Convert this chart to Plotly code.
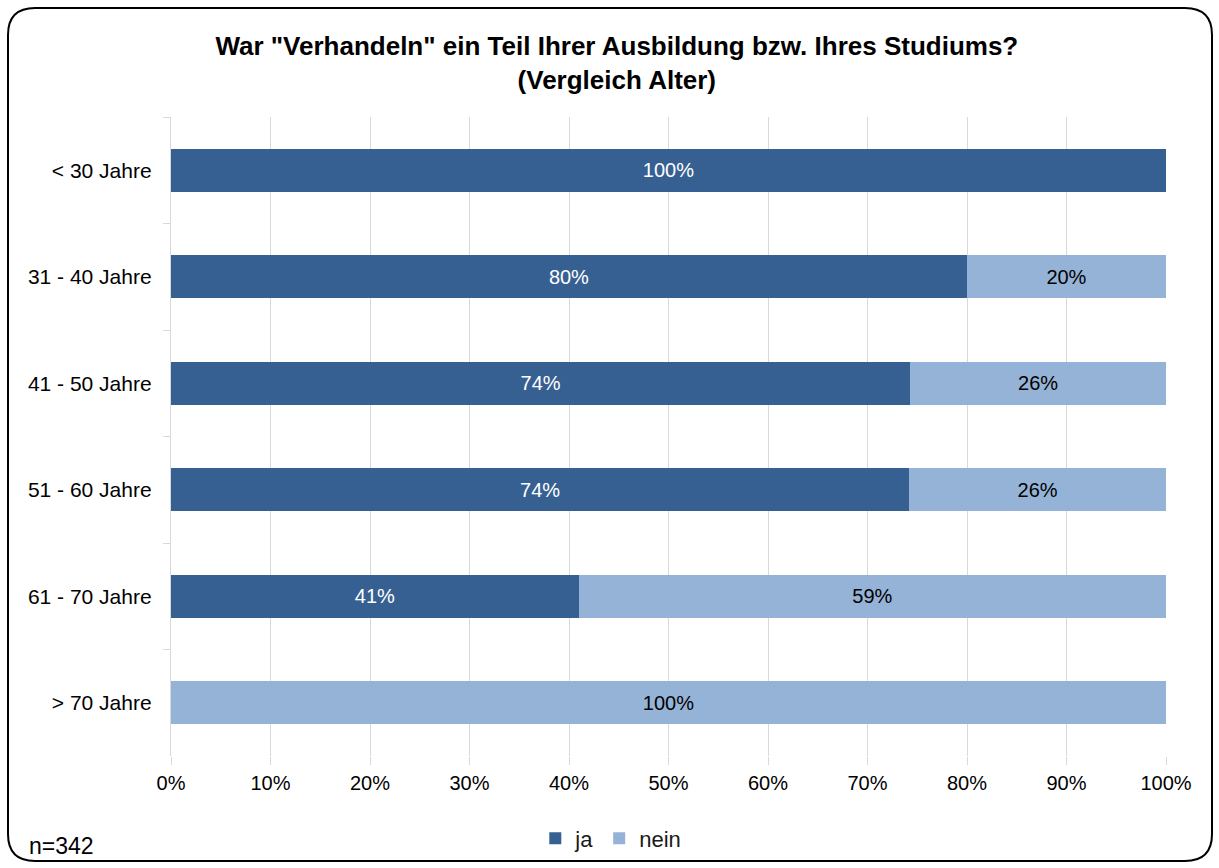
import plotly.graph_objects as go

categories = ["< 30 Jahre", "31 - 40 Jahre", "41 - 50 Jahre", "51 - 60 Jahre", "61 - 70 Jahre", "> 70 Jahre"]
ja = [100, 80, 74.3, 74.2, 41, 0]
nein = [0, 20, 25.7, 25.8, 59, 100]
tick_vals = [0, 10, 20, 30, 40, 50, 60, 70, 80, 90, 100]
tick_text = ["0%", "10%", "20%", "30%", "40%", "50%", "60%", "70%", "80%", "90%", "100%"]

W, H = 1219, 868
L, R, T, B = 171, 53, 117, 112
FONT = "Liberation Sans, Arial, sans-serif"


def lbl(vals):
    return [f"{round(v)}%" if v > 0 else "" for v in vals]


fig = go.Figure()
fig.add_trace(go.Bar(y=categories, x=ja, name="ja", orientation="h",
                     marker=dict(color="#376092", line=dict(width=0)),
                     text=lbl(ja), textposition="inside", insidetextanchor="middle",
                     textfont=dict(color="white", size=20, family=FONT)))
fig.add_trace(go.Bar(y=categories, x=nein, name="nein", orientation="h",
                     marker=dict(color="#95B3D7", line=dict(width=0)),
                     text=lbl(nein), textposition="inside", insidetextanchor="middle",
                     textfont=dict(color="#000000", size=20, family=FONT)))

pw, ph = W - L - R, H - T - B


def px(x):
    return (x - L) / pw


def py(y):
    return 1 - (y - T) / ph


x0, x1, y0, y1, r = 8, 1212, 8, 861, 27
path = (f"M {px(x0 + r)} {py(y0)} L {px(x1 - r)} {py(y0)} Q {px(x1)} {py(y0)} {px(x1)} {py(y0 + r)} "
        f"L {px(x1)} {py(y1 - r)} Q {px(x1)} {py(y1)} {px(x1 - r)} {py(y1)} "
        f"L {px(x0 + r)} {py(y1)} Q {px(x0)} {py(y1)} {px(x0)} {py(y1 - r)} "
        f"L {px(x0)} {py(y0 + r)} Q {px(x0)} {py(y0)} {px(x0 + r)} {py(y0)} Z")

fig.update_layout(
    width=W, height=H,
    margin=dict(l=L, r=R, t=T, b=B, autoexpand=False),
    barmode="stack", bargap=0.6,
    paper_bgcolor="white", plot_bgcolor="white",
    font=dict(family=FONT, size=20, color="#000000"),
    title=dict(text="<b>War \"Verhandeln\" ein Teil Ihrer Ausbildung bzw. Ihres Studiums?<br>(Vergleich Alter)</b>",
               x=0.506, xanchor="center", y=1 - 55 / H, yanchor="top",
               font=dict(size=26, family=FONT, color="#000000")),
    xaxis=dict(range=[0, 100], tickvals=tick_vals, ticktext=tick_text,
               showgrid=True, gridcolor="#D9D9D9", gridwidth=1.3, zeroline=False,
               showline=False, ticks="outside", ticklen=8, tickcolor="#D9D9D9",
               ticklabelstandoff=1, automargin=False,
               tickfont=dict(size=20, family=FONT, color="#000000"), fixedrange=True),
    yaxis=dict(autorange="reversed", showline=True, linecolor="#D9D9D9", linewidth=1.3,
               ticks="outside", ticklen=7, tickcolor="#D9D9D9", tickson="boundaries",
               showgrid=False, ticklabelstandoff=14, automargin=False,
               tickfont=dict(size=21, family=FONT, color="#000000")),
    legend=dict(orientation="h", x=0.442, xanchor="center", y=-0.096, yanchor="top",
                bgcolor="rgba(0,0,0,0)",
                font=dict(size=22, family=FONT, color="#1a1a1a"), traceorder="normal",
                itemwidth=30),
    shapes=[dict(type="path", xref="paper", yref="paper", path=path,
                 line=dict(color="black", width=2), fillcolor="rgba(0,0,0,0)", layer="above")],
    annotations=[dict(text="n=342", xref="paper", yref="paper", x=px(27), y=py(846),
                      xanchor="left", yanchor="middle", showarrow=False,
                      font=dict(size=23, family=FONT, color="#000000"))],
)

fig.write_html("out.html")
